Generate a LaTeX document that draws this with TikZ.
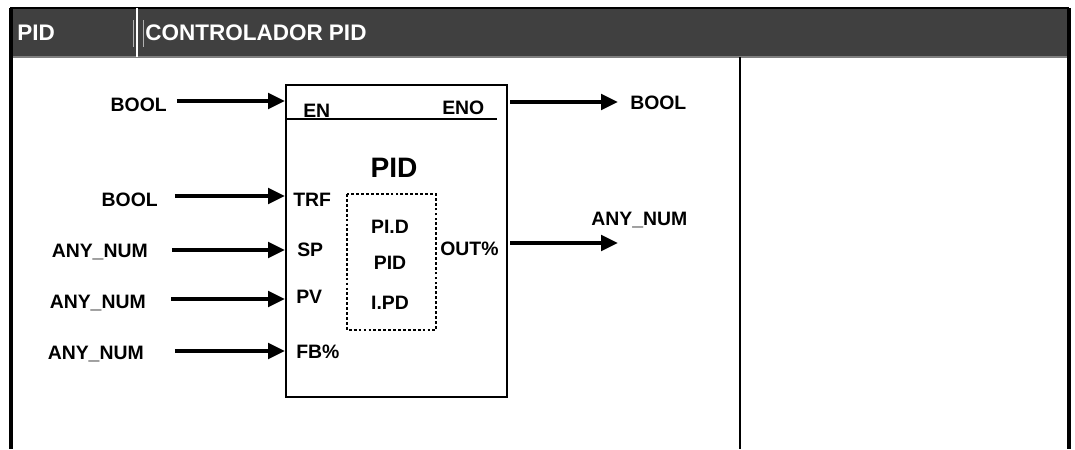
\documentclass[tikz,border=0pt]{standalone}
\usepackage{fontspec}
\setmainfont{Liberation Sans}
\usetikzlibrary{arrows.meta}

\tikzset{
  lbl/.style={font=\bfseries\fontsize{13.8}{16}\selectfont, inner sep=0pt, text height=9.9pt, text depth=0pt},
  hdr/.style={font=\bfseries\fontsize{16}{19}\selectfont, text=white, inner sep=0pt, anchor=west},
  ttl/.style={font=\bfseries\fontsize{20}{24}\selectfont, inner sep=0pt, text height=14.3pt, text depth=0pt},
  sig/.style={-{Triangle[length=12pt,width=11pt]}, line width=2.6pt},
  fblock/.style={draw, line width=1.8pt, minimum width=5.525cm, minimum height=7.8cm, inner sep=0pt}
}

\begin{document}
\begin{tikzpicture}[x=0.025cm,y=-0.025cm]
\useasboundingbox (0,0) rectangle (1075,449);
% header bar
\fill[black!75] (10,8) rectangle (1069,57);
\draw[black, line width=0.8pt] (10,8) -- (1069,8);
\draw[gray, line width=0.8pt] (10,57) -- (1069,57);
\draw[gray!60, line width=0.4pt] (133,20) -- (133,47);
\draw[gray!60, line width=0.4pt] (143,20) -- (143,47);
\draw[white, line width=1.4pt] (137,8) -- (137,57);
\node[hdr] (hname) at (17,33) {PID};
\node[hdr] (htitle) at (145,33) {CONTROLADOR PID};
% frame
\draw[line width=2.8pt] (11,8) -- (11,449);
\draw[line width=2.2pt] (1069,8) -- (1069,449);
\draw[line width=1.5pt] (740,57) -- (740,449);

% function block
\node[fblock] (pid) at (396.5,241) {};
\draw[line width=2.1pt] (286,119) -- (497,119);
\node[ttl] (ptitle) at (394,167) {PID};
\draw[line width=2pt, dash pattern=on 2pt off 1.5pt] (347,194) rectangle (436,330);
\node[lbl] (mode1) at (390,227) {PI.D};
\node[lbl] (mode2) at (390,263) {PID};
\node[lbl] (mode3) at (390,303) {I.PD};

% pins
\node[lbl, anchor=west] (en) at (303,111) {EN};
\node[lbl, anchor=west] (eno) at (442,108) {ENO};
\node[lbl, anchor=west] (trf) at (293,200) {TRF};
\node[lbl, anchor=west] (sp) at (297,250) {SP};
\node[lbl, anchor=west] (pv) at (296,297) {PV};
\node[lbl, anchor=west] (fb) at (296,352) {FB\%};
\node[lbl, anchor=west] (out) at (440,249) {OUT\%};
\coordinate (pEN) at (285,101);
\coordinate (pTRF) at (285,196);
\coordinate (pSP) at (285,250);
\coordinate (pPV) at (285,299);
\coordinate (pFB) at (285,351);
\coordinate (pENO) at (510,102);
\coordinate (pOUT) at (510,243);
\coordinate (tENO) at (618,102);
\coordinate (tOUT) at (618,243);

% data types
\node[lbl, anchor=east] (tyEN) at (167,105) {BOOL};
\node[lbl, anchor=east] (tyTRF) at (158,200) {BOOL};
\node[lbl, anchor=east] (tySP) at (148,251) {ANY\_NUM};
\node[lbl, anchor=east] (tyPV) at (146,302) {ANY\_NUM};
\node[lbl, anchor=east] (tyFB) at (144,353) {ANY\_NUM};
\node[lbl, anchor=west] (tyENO) at (630,103) {BOOL};
\node[lbl, anchor=west] (tyOUT) at (591,219) {ANY\_NUM};

% signals
\draw[sig, shorten <=7pt] (tyEN.east |- pEN) -- (pEN);
\draw[sig, shorten <=12pt] (tyTRF.east |- pTRF) -- (pTRF);
\draw[sig, shorten <=17pt] (tySP.east |- pSP) -- (pSP);
\draw[sig, shorten <=18pt] (tyPV.east |- pPV) -- (pPV);
\draw[sig, shorten <=22pt] (tyFB.east |- pFB) -- (pFB);
\draw[sig] (pENO) -- (tENO);
\draw[sig] (pOUT) -- (tOUT);
\end{tikzpicture}
\end{document}
